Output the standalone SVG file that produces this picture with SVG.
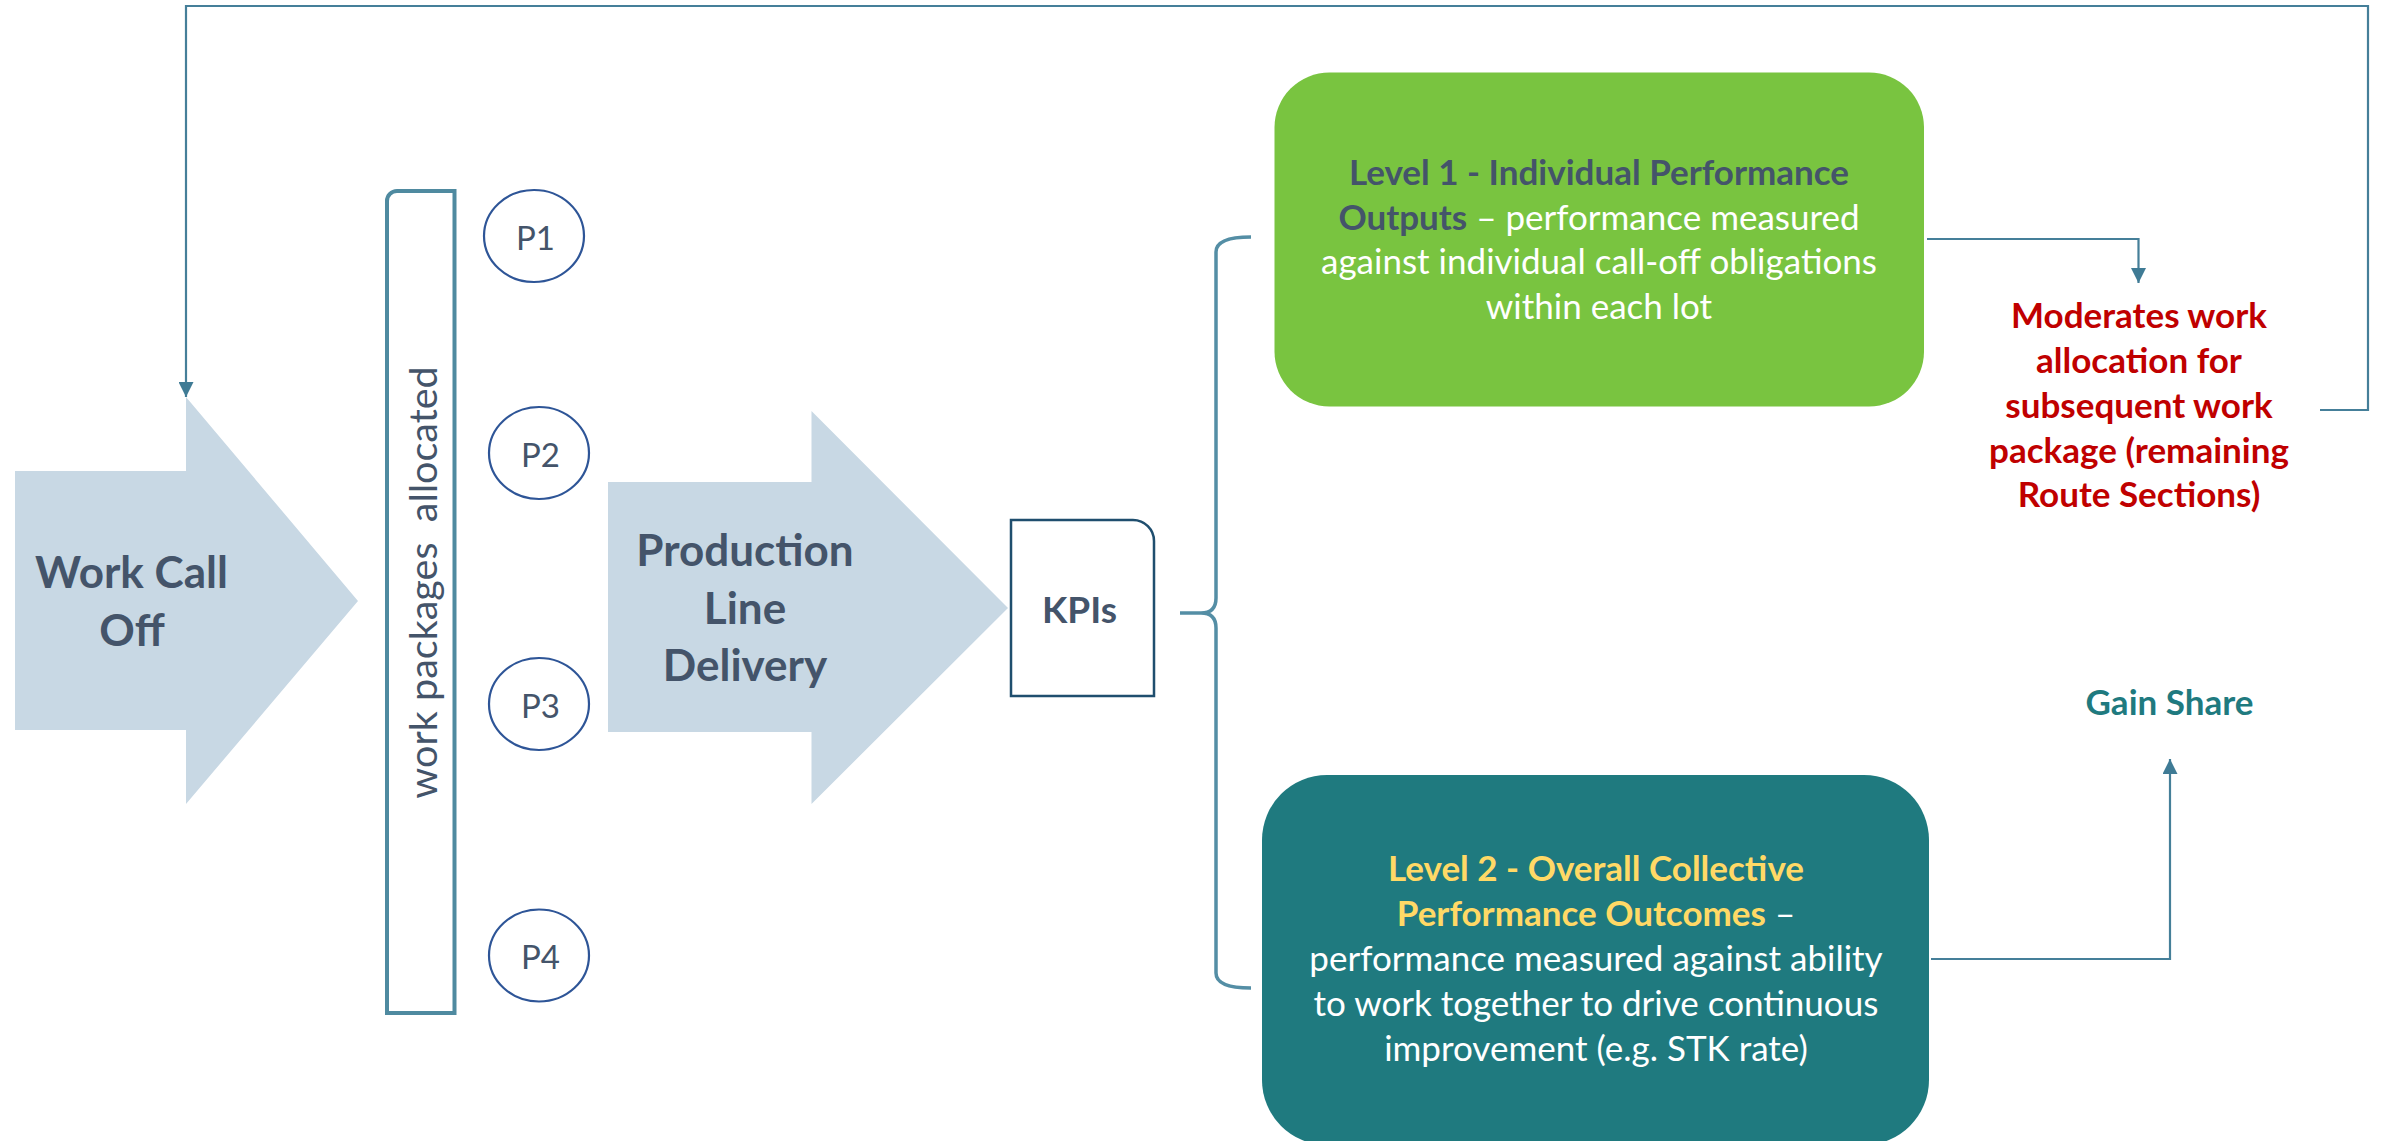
<svg xmlns="http://www.w3.org/2000/svg" width="2382" height="1141" viewBox="0 0 2382 1141">
  <defs>
    <marker id="arrow" viewBox="0 0 15 15" refX="15" refY="7.5" markerWidth="15" markerHeight="15" markerUnits="userSpaceOnUse" orient="auto">
      <path d="M0,0 L15,7.5 L0,15 Z" fill="#3f7b95"/>
    </marker>
    <style>
      .txt { font-family: Lato, "Liberation Sans", sans-serif; }
      .big { font-size: 44px; font-weight: bold; fill: #44546a; text-anchor: middle; }
      .body { font-size: 35px; text-anchor: middle; }
      .bold { font-weight: bold; }
      .flow { fill: #c8d8e4; }
      .conn { fill: none; stroke: #457f99; stroke-width: 2.2; }
      .pkg { fill: #ffffff; stroke: #2e5597; stroke-width: 2.2; }
      .plabel { font-size: 33px; fill: #44546a; text-anchor: middle; }
    </style>
  </defs>
  <rect width="2382" height="1141" fill="#ffffff"/>

  <!-- connectors -->
  <g id="connectors">
    <path class="conn" d="M2320,410 H2368 V6 H186 V397" marker-end="url(#arrow)"/>
    <path class="conn" d="M1927,239 H2138.5 V283" marker-end="url(#arrow)"/>
    <path class="conn" d="M1931,959 H2170 V759" marker-end="url(#arrow)"/>
    <path d="M1251,237 Q1216,237 1216,252 L1216,598 Q1216,613 1201,613 L1180,613 L1201,613 Q1216,613 1216,628 L1216,973 Q1216,988 1251,988" fill="none" stroke="#548ea5" stroke-width="3.5"/>
  </g>

  <!-- work call off arrow -->
  <g id="work-call-off">
    <polygon class="flow" points="15,471 186,471 186,397 358,601 186,804 186,730 15,730"/>
    <text class="txt big" x="131.5" y="588" font-size="42.5">Work Call</text>
    <text class="txt big" x="132" y="646" font-size="42.5">Off</text>
  </g>

  <!-- allocation bar -->
  <g id="work-packages">
    <path d="M387,1013 V201 A10,10 0 0 1 397,191 H454.5 V1013 Z" fill="#ffffff" stroke="#4f8aa0" stroke-width="4"/>
    <text class="txt" x="0" y="0" transform="translate(437,582.5) rotate(-90)" font-size="39.5" fill="#44546a" text-anchor="middle" xml:space="preserve">work packages  allocated</text>
  </g>

  <!-- packages -->
  <g id="p1">
    <ellipse class="pkg" cx="534" cy="236" rx="50" ry="46"/>
    <text class="txt plabel" x="535.5" y="249.5">P1</text>
  </g>
  <g id="p2">
    <ellipse class="pkg" cx="539" cy="453" rx="50" ry="46"/>
    <text class="txt plabel" x="540.5" y="466.5">P2</text>
  </g>
  <g id="p3">
    <ellipse class="pkg" cx="539" cy="704" rx="50" ry="46"/>
    <text class="txt plabel" x="540.5" y="717.5">P3</text>
  </g>
  <g id="p4">
    <ellipse class="pkg" cx="539" cy="955.5" rx="50" ry="46"/>
    <text class="txt plabel" x="540.5" y="969">P4</text>
  </g>

  <!-- production line delivery arrow -->
  <g id="production-line-delivery">
    <polygon class="flow" points="608,482 811.5,482 811.5,411 1008,608 811.5,804 811.5,732 608,732"/>
    <text class="txt big" x="745" y="566">Production</text>
    <text class="txt big" x="745" y="624">Line</text>
    <text class="txt big" x="745" y="681">Delivery</text>
  </g>

  <!-- KPIs -->
  <g id="kpis">
    <path d="M1011,520 H1133 A21,21 0 0 1 1154,541 V696 H1011 Z" fill="#ffffff" stroke="#1f4e6e" stroke-width="2.5"/>
    <text class="txt" x="1079.5" y="622.5" font-size="37" font-weight="bold" fill="#44546a" text-anchor="middle">KPIs</text>
  </g>

  <!-- level 1 -->
  <g id="level-1">
    <rect x="1274.5" y="72.5" width="649.5" height="334" rx="55" ry="55" fill="#79c440"/>
    <text class="txt body bold" x="1599" y="185" fill="#44546a">Level 1 - Individual Performance</text>
    <text class="txt body" x="1599" y="229.5" fill="#ffffff"><tspan class="bold" fill="#44546a">Outputs</tspan> – performance measured</text>
    <text class="txt body" x="1599" y="274" fill="#ffffff">against individual call-off obligations</text>
    <text class="txt body" x="1599" y="318.5" fill="#ffffff">within each lot</text>
  </g>

  <!-- level 2 -->
  <g id="level-2">
    <rect x="1262" y="775" width="667" height="370" rx="65" ry="65" fill="#1f7a7f"/>
    <text class="txt body bold" x="1596" y="881" fill="#ffd966">Level 2 - Overall Collective</text>
    <text class="txt body" x="1596" y="926" fill="#ffffff"><tspan class="bold" fill="#ffd966">Performance Outcomes</tspan> –</text>
    <text class="txt body" x="1596" y="971" fill="#ffffff">performance measured against ability</text>
    <text class="txt body" x="1596" y="1016" fill="#ffffff">to work together to drive continuous</text>
    <text class="txt body" x="1596" y="1060.5" fill="#ffffff">improvement (e.g. STK rate)</text>
  </g>

  <!-- moderation outcome -->
  <g id="moderates">
    <text class="txt body bold" x="2139" y="327.5" fill="#c00000">Moderates work</text>
    <text class="txt body bold" x="2139" y="372.5" fill="#c00000">allocation for</text>
    <text class="txt body bold" x="2139" y="417.5" fill="#c00000">subsequent work</text>
    <text class="txt body bold" x="2139" y="462.5" fill="#c00000">package (remaining</text>
    <text class="txt body bold" x="2139" y="506.5" fill="#c00000">Route Sections)</text>
  </g>

  <!-- gain share -->
  <g id="gain-share">
    <text class="txt body bold" x="2169.5" y="715" fill="#1f7a7f">Gain Share</text>
  </g>
</svg>
